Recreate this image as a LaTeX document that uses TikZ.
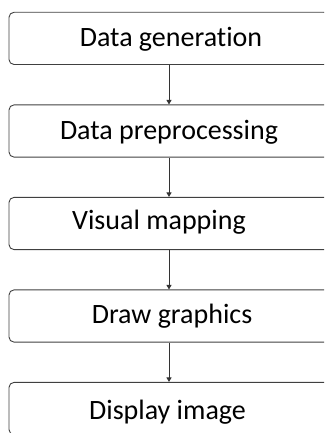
\documentclass[tikz,border=0pt]{standalone}
\usepackage{fontspec}
\setmainfont{Carlito}[Ligatures=NoCommon]
\usetikzlibrary{arrows.meta}
\tikzset{
  stagebox/.style={draw=black!75, line width=0.9pt, rounded corners=5pt,
    minimum width=320pt, minimum height=52.2pt, inner sep=0pt},
  stagetext/.style={anchor=base, inner sep=0pt, font=\fontsize{28}{33}\selectfont},
  flow/.style={draw=black!80, line width=0.9pt, -{Triangle[width=5pt,length=4.5pt]}}
}
\begin{document}
\begin{tikzpicture}[x=1pt,y=1pt]
  \clip (0,0) rectangle (324,433);
  % the five processing stages, top to bottom
  \node[stagebox] (b1) at (169,394.6) {};
  \node[stagebox] (b2) at (169,302.0) {};
  \node[stagebox] (b3) at (169,209.5) {};
  \node[stagebox] (b4) at (169,117.0) {};
  \node[stagebox] (b5) at (169,24.5) {};
  % stage labels
  \node[stagetext] (t1) at (171,386.3) {Data generation};
  \node[stagetext] (t2) at (169,293.7) {Data preprocessing};
  \node[stagetext] (t3) at (159,203.0) {Visual mapping};
  \node[stagetext] (t4) at (172,109.5) {Draw graphics};
  \node[stagetext] (t5) at (167.5,13.7) {Display image};
  % connectors
  \draw[flow] (b1.south) -- (b2.north);
  \draw[flow] (b2.south) -- (b3.north);
  \draw[flow] (b3.south) -- (b4.north);
  \draw[flow] (b4.south) -- (b5.north);
\end{tikzpicture}
\end{document}
